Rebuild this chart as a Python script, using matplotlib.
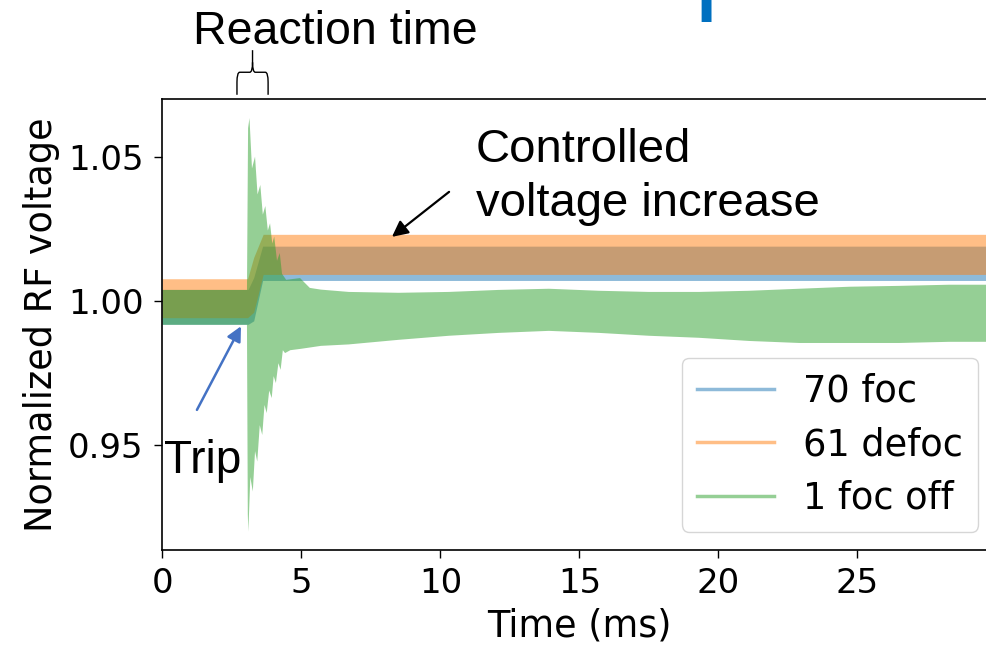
import matplotlib
matplotlib.use("Agg")
import matplotlib.pyplot as plt
import matplotlib.transforms as mtransforms
from matplotlib.lines import Line2D
from matplotlib.path import Path
from matplotlib.patches import PathPatch

# ── Data (envelopes of the fast RF oscillation) ──────────────────────────────
# 70 foc
blue_t  = [0.0, 3.10, 3.30, 3.62, 30.0]
blue_hi = [1.0039, 1.0039, 1.0080, 1.0189, 1.0189]
blue_lo = [0.9918, 0.9918, 0.9930, 1.0070, 1.0070]

# 61 defoc
orange_t  = [0.0, 3.08, 3.30, 3.64, 30.0]
orange_hi = [1.0076, 1.0076, 1.0150, 1.0230, 1.0230]
orange_lo = [0.9941, 0.9941, 0.9960, 1.0091, 1.0091]

# 1 foc off : upper envelope
green_up_t = [0.0, 3.04, 3.08, 3.13, 3.22, 3.33, 3.42, 3.52, 3.61, 3.70,
              3.79, 3.87, 3.95, 4.02, 4.12, 4.22, 4.30, 4.45, 4.95, 5.30,
              5.70, 6.70, 8.50, 10.3, 12.1, 13.9, 15.7, 17.5, 19.3, 21.1,
              22.9, 24.7, 26.5, 28.3, 30.0]
green_up   = [1.0039, 1.0039, 1.0600, 1.0635, 1.0460, 1.0501, 1.0370, 1.0403,
              1.0300, 1.0330, 1.0245, 1.0270, 1.0200, 1.0224, 1.0140, 1.0167,
              1.0095, 1.0074, 1.0080, 1.0046, 1.0040, 1.0032, 1.0029, 1.0032,
              1.0039, 1.0043, 1.0036, 1.0032, 1.0032, 1.0036, 1.0043, 1.0050,
              1.0053, 1.0057, 1.0057]
# 1 foc off : lower envelope
green_lo_t = [0.0, 3.04, 3.07, 3.09, 3.16, 3.25, 3.33, 3.41, 3.50, 3.59,
              3.67, 3.75, 3.84, 3.93, 4.00, 4.08, 4.17, 4.25, 4.33, 4.41,
              4.60, 5.00, 5.70, 6.70, 8.50, 10.3, 12.1, 13.9, 15.7, 17.5,
              19.3, 21.1, 22.9, 24.7, 26.5, 28.3, 30.0]
green_lo   = [0.9918, 0.9918, 0.9260, 0.9201, 0.9390, 0.9340, 0.9480, 0.9444,
              0.9570, 0.9536, 0.9640, 0.9612, 0.9690, 0.9664, 0.9740, 0.9716,
              0.9785, 0.9762, 0.9830, 0.9820, 0.9830, 0.9835, 0.9845, 0.9850,
              0.9866, 0.9880, 0.9890, 0.9897, 0.9890, 0.9880, 0.9873, 0.9862,
              0.9855, 0.9855, 0.9855, 0.9859, 0.9859]

SERIES = [
    ("70 foc",    "tab:blue",   blue_t,     blue_hi,  blue_t,     blue_lo),
    ("61 defoc",  "tab:orange", orange_t,   orange_hi, orange_t,  orange_lo),
    ("1 foc off", "tab:green",  green_up_t, green_up, green_lo_t, green_lo),
]

X_TICKS = [0, 5, 10, 15, 20, 25]
Y_TICKS = [0.95, 1.00, 1.05]

ANNOT_FONT = "Liberation Sans"

# ── Figure ────────────────────────────────────────────────────────────────────
fig = plt.figure(figsize=(9.87, 6.49), dpi=100)
ax = fig.add_axes([0.1646, 0.1525, 0.845, 0.6945])

for label, color, tu, up, tl, lo in SERIES:
    xs = list(tu) + list(tl[::-1])
    ys = list(up) + list(lo[::-1])
    ax.fill(xs, ys, color=color, alpha=0.5, lw=0)

ax.set_xlim(0, 30)
ax.set_ylim(0.9137, 1.0700)
ax.set_xticks(X_TICKS)
ax.set_yticks(Y_TICKS)
ax.set_yticklabels([f"{v:.2f}" for v in Y_TICKS])
ax.tick_params(axis="both", labelsize=24.5, length=6, width=1)
ax.tick_params(axis="x", pad=6.5)
ax.tick_params(axis="y", pad=7.5)
for sp in ax.spines.values():
    sp.set_linewidth(1.2)

ax.set_xlabel("Time (ms)", fontsize=26.4, labelpad=5)
ax.set_ylabel("Normalized RF voltage", fontsize=26.4)
ax.yaxis.set_label_coords(-0.123, 0.5)

handles = [Line2D([], [], color=c, alpha=0.5, lw=2.5) for _, c, *_ in SERIES]
ax.legend(handles, [s[0] for s in SERIES], loc="lower right", fontsize=26.5,
          handlelength=2.1, labelspacing=0.45)

# ── Annotations ───────────────────────────────────────────────────────────────
ax.annotate("", xy=(8.255, 1.0223), xytext=(10.31, 1.0379),
            arrowprops=dict(arrowstyle="-|>", color="black", lw=1.6,
                            mutation_scale=24, shrinkA=0, shrinkB=0))
ax.annotate("", xy=(2.824, 0.9913), xytext=(1.24, 0.9623),
            arrowprops=dict(arrowstyle="-|>", color="#4472C4", lw=1.8,
                            mutation_scale=22, shrinkA=0, shrinkB=0))

fig.text(476 / 987, 1 - 162 / 649, "Controlled", fontsize=34,
         family=ANNOT_FONT, va="baseline", ha="left")
fig.text(476 / 987, 1 - 216 / 649, "voltage increase", fontsize=34,
         family=ANNOT_FONT, va="baseline", ha="left")
fig.text(164 / 987, 1 - 473 / 649, "Trip", fontsize=33,
         family=ANNOT_FONT, va="baseline", ha="left")
fig.text(335 / 987, 1 - 44 / 649, "Reaction time", fontsize=33.5,
         family=ANNOT_FONT, va="baseline", ha="center")

# curly brace over the reaction time
trans = mtransforms.blended_transform_factory(ax.transData, ax.transAxes)
xl, xc, xr = 2.68, 3.24, 3.80
yb, ym, yt = 1.010, 1.060, 1.109
dx, dy = 0.10, 0.022
M, L, C = Path.MOVETO, Path.LINETO, Path.CURVE3
verts = [(xl, yb), (xl, ym - dy), (xl, ym), (xl + dx, ym), (xc - dx, ym),
         (xc, ym), (xc, ym + dy), (xc, yt),
         (xr, yb), (xr, ym - dy), (xr, ym), (xr - dx, ym), (xc + dx, ym),
         (xc, ym), (xc, ym + dy)]
codes = [M, L, C, C, L, C, C, L,
         M, L, C, C, L, C, C]
ax.add_patch(PathPatch(Path(verts, codes), transform=trans, fill=False,
                       lw=1.0, color="black", clip_on=False))

# slide title, cut off at the top edge as in the source slide
fig.text(693.5 / 987, 1 + 2 / 649, "pro", fontsize=82, color="#0070C0",
         family=ANNOT_FONT, va="baseline", ha="left")

fig.savefig("out.png", dpi=100)
